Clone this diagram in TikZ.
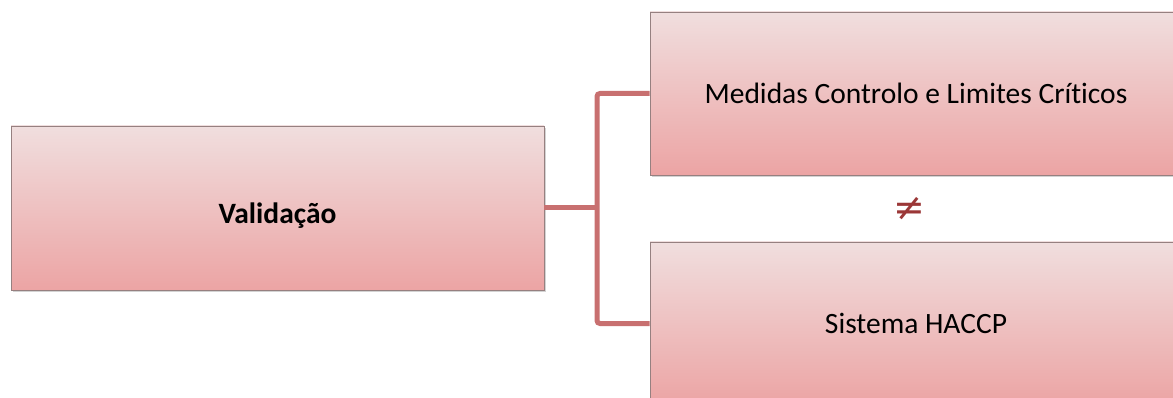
\documentclass[tikz,border=0pt]{standalone}
\usepackage{fontspec}
\setmainfont{Carlito}[RawFeature=-liga]
\newfontfamily\symfont{DejaVu Sans}
\usetikzlibrary{shadows}
\definecolor{boxtop}{RGB}{240,222,222}
\definecolor{boxbot}{RGB}{236,164,164}
\definecolor{boxline}{RGB}{150,128,128}
\definecolor{conncol}{RGB}{200,112,112}
\definecolor{neqcol}{RGB}{155,55,55}
\tikzset{
  box/.style={rectangle, draw=boxline, line width=0.8pt, top color=boxtop, bottom color=boxbot,
    drop shadow={shadow xshift=1.5pt, shadow yshift=-2pt, opacity=0.35, fill=gray},
    inner sep=0pt, font=\fontsize{29.5}{35}\selectfont, text=black},
  conn/.style={draw=conncol, line width=5pt, rounded corners=3pt}
}
\begin{document}
\begin{tikzpicture}[x=1pt,y=-1pt]
\useasboundingbox (0,0) rectangle (1173,398);
\node[box, minimum width=533pt, minimum height=164pt] (val) at (277.5,208) {\raisebox{-15.5pt}[0pt][0pt]{\textbf{Validação}}};
\node[box, minimum width=532pt, minimum height=163pt] (med) at (916,93.5) {Medidas Controlo e Limites Críticos};
\node[box, minimum width=532pt, minimum height=163pt] (sis) at (916,323.5) {Sistema HACCP};
\node[text=neqcol, font=\symfont\fontsize{38}{44}\selectfont, inner sep=0pt] (neq) at (909,209) {≠};
\coordinate (bus) at (597,208);
\draw[conn] (val.east) -- (bus);
\draw[conn] (med.west) -| (bus) |- (sis.west);
\end{tikzpicture}
\end{document}
